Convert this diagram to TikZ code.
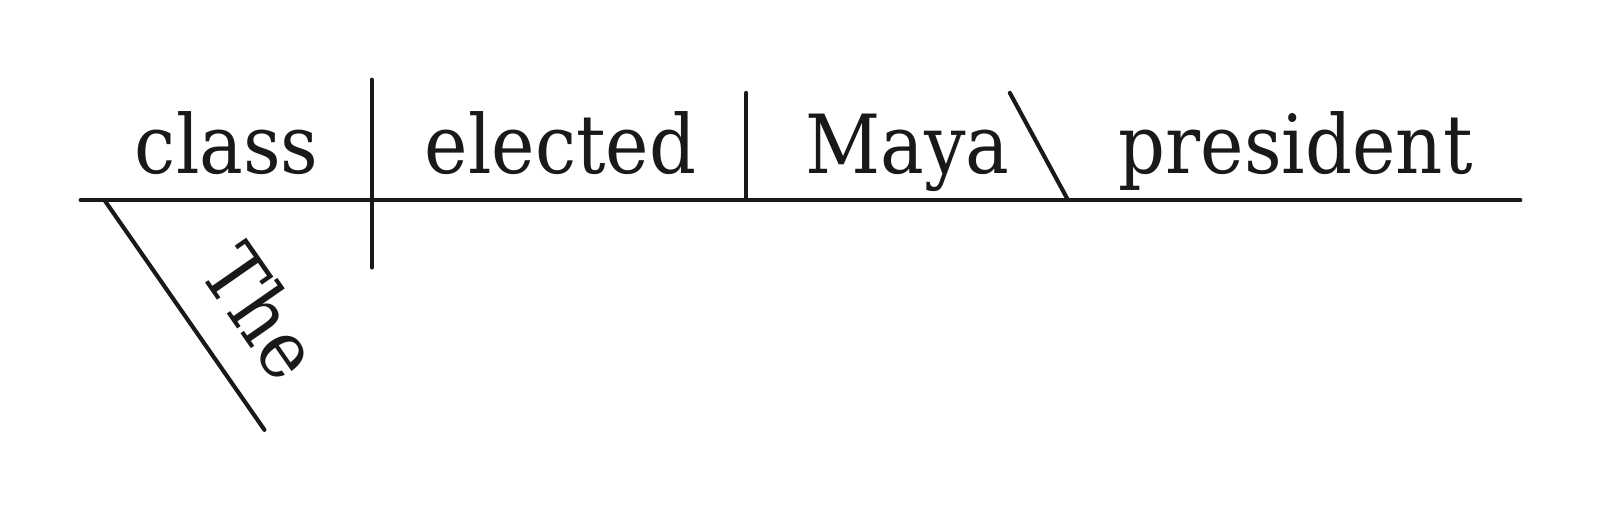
\documentclass[tikz,border=0pt]{standalone}
\usepackage{fontspec}
\setmainfont{DejaVu Serif Condensed}
\begin{document}
\begin{tikzpicture}[x=0.01021cm,y=-0.01021cm,
  rule/.style={line width=1.17pt,line cap=round,color=black!90},
  word/.style={font=\fontsize{23.2pt}{28pt}\selectfont,text=black!90,inner sep=0pt,anchor=base}]
% coordinates
\coordinate (L) at (79,196);
\coordinate (R) at (1489,196);
\coordinate (d1t) at (364,78);
\coordinate (d1b) at (364,262);
\coordinate (d2t) at (731,91);
\coordinate (d2b) at (731,196);
\coordinate (s1t) at (989,91);
\coordinate (s1b) at (1046,196);
\coordinate (m1t) at (103,197);
\coordinate (m1b) at (259,421);
% lines
\draw[rule] (L) -- (R);
\draw[rule] (d1t) -- (d1b);
\draw[rule] (d2t) -- (d2b);
\draw[rule] (s1t) -- (s1b);
\draw[rule] (m1t) -- (m1b);
% words
\node[word] (class) at (222,170) {class};
\node[word] (elected) at (549,170) {elected};
\node[word] (maya) at (889,170) {Maya};
\node[word] (president) at (1269,170) {president};
\node[word,anchor=center,rotate=-55.2] (the) at (257,305) {The};
\pgfresetboundingbox
\useasboundingbox (0,0) rectangle (1567,499.5);
\end{tikzpicture}
\end{document}
